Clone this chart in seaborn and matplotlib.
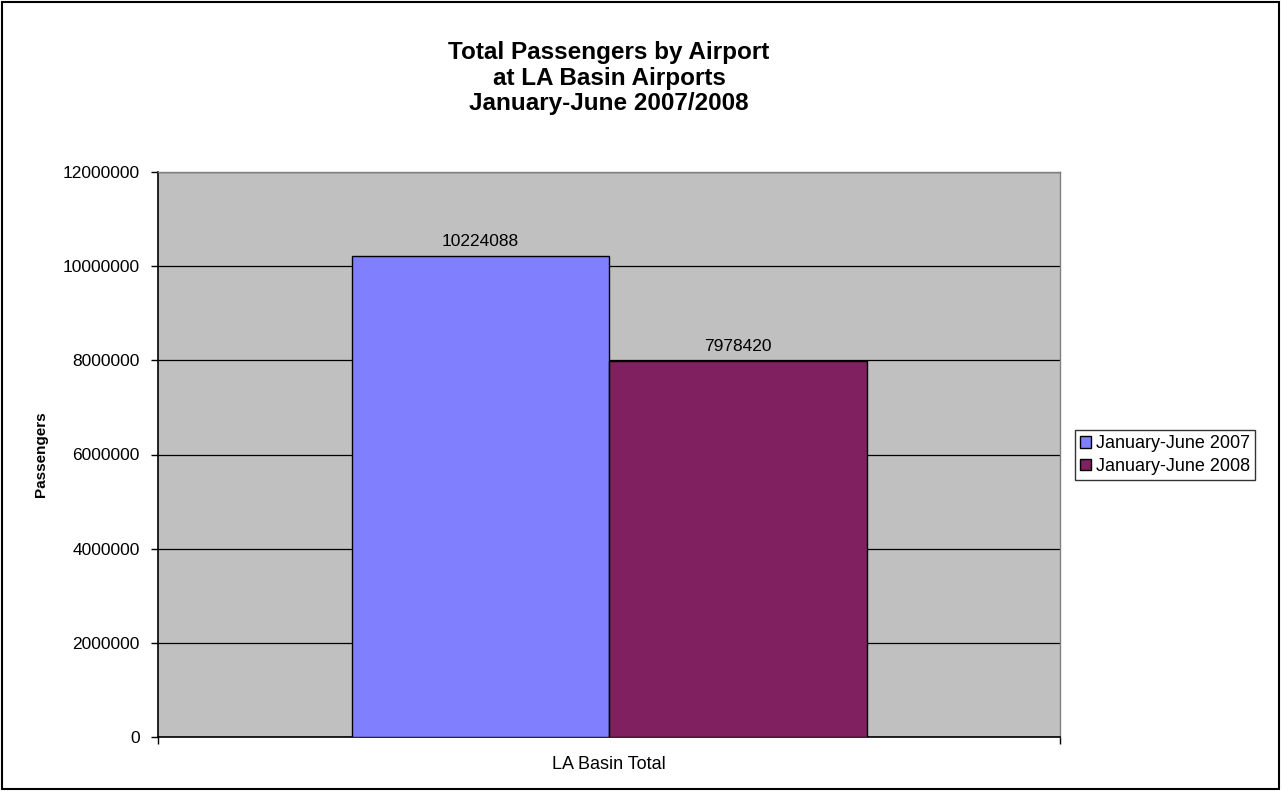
import matplotlib
matplotlib.use("Agg")
import matplotlib.pyplot as plt
import seaborn as sns
import pandas as pd
from matplotlib.patches import Rectangle

categories = ["LA Basin Total"]
series_names = ["January-June 2007", "January-June 2008"]
values_2007 = [10224088]
values_2008 = [7978420]
yticks = [0, 2000000, 4000000, 6000000, 8000000, 10000000, 12000000]
colors = ["#8080FF", "#802060"]

df = pd.DataFrame({
    "Category": categories * 2,
    "Period": [series_names[0]] * len(categories) + [series_names[1]] * len(categories),
    "Passengers": values_2007 + values_2008,
})

sns.set_theme(style="white")
plt.rcParams["font.family"] = ["Liberation Sans", "DejaVu Sans"]

W, H = 1282, 791
fig = plt.figure(figsize=(W / 100, H / 100), dpi=100)
ax = fig.add_axes([158 / W, 1 - 737 / H, (1060 - 158) / W, (737 - 172) / H])
ax.set_facecolor("#C0C0C0")

sns.barplot(data=df, x="Category", y="Passengers", hue="Period", palette=colors,
            width=515 / 902, gap=0, edgecolor="black", linewidth=1.0, ax=ax,
            saturation=1, zorder=3)

for cont in ax.containers:
    ax.bar_label(cont, fmt="%d", padding=5, fontsize=12.5, color="black")

ax.set_ylim(0, 12000000)
ax.set_xlim(-0.5, 0.5)
ax.set_yticks(yticks)
ax.set_yticklabels([str(v) for v in yticks], fontsize=12.5, color="black")
ax.yaxis.grid(True, color="black", linewidth=0.9, zorder=0)
ax.set_axisbelow(True)
ax.tick_params(axis="y", which="major", length=5, width=1, color="black", direction="out", left=True, pad=8)
ax.tick_params(axis="x", which="major", length=0, labelsize=13, labelcolor="black", pad=14)
ax.set_xticks([-0.5, 0.5], minor=True)
ax.tick_params(axis="x", which="minor", length=5, width=1, color="black", direction="out", bottom=True)
ax.set_xlabel("")
ax.set_ylabel("")
fig.text(41 / W, 1 - 454 / H, "Passengers", rotation=90, ha="center", va="center",
         fontsize=11, fontweight="bold", color="black")

for side in ["left", "bottom"]:
    ax.spines[side].set_color("black")
    ax.spines[side].set_linewidth(1.2)
for side in ["top", "right"]:
    ax.spines[side].set_color("#808080")
    ax.spines[side].set_linewidth(1.0)
    ax.spines[side].set_visible(True)

leg = ax.legend(loc="center left", bbox_to_anchor=(1075 / W, 1 - 455 / H),
                bbox_transform=fig.transFigure, fontsize=13, frameon=True,
                fancybox=False, edgecolor="black", handlelength=0.6, handleheight=0.6,
                handletextpad=0.25, borderpad=0.3, labelspacing=0.3, borderaxespad=0)
leg.get_frame().set_linewidth(1.0)
for t in leg.get_texts():
    t.set_color("black")
for h in leg.legend_handles:
    h.set_edgecolor("black")
    h.set_linewidth(1.0)

fig.text(609 / W, 1 - 78 / H, "Total Passengers by Airport\nat LA Basin Airports\nJanuary-June 2007/2008",
         ha="center", va="center", fontsize=17.5, fontweight="bold", linespacing=1.12, color="black")

fig.patches.append(Rectangle((2 / W, 2 / H), 1277 / W, 787 / H, transform=fig.transFigure,
                             fill=False, edgecolor="black", linewidth=1.5))

fig.savefig("out.png", dpi=100)
